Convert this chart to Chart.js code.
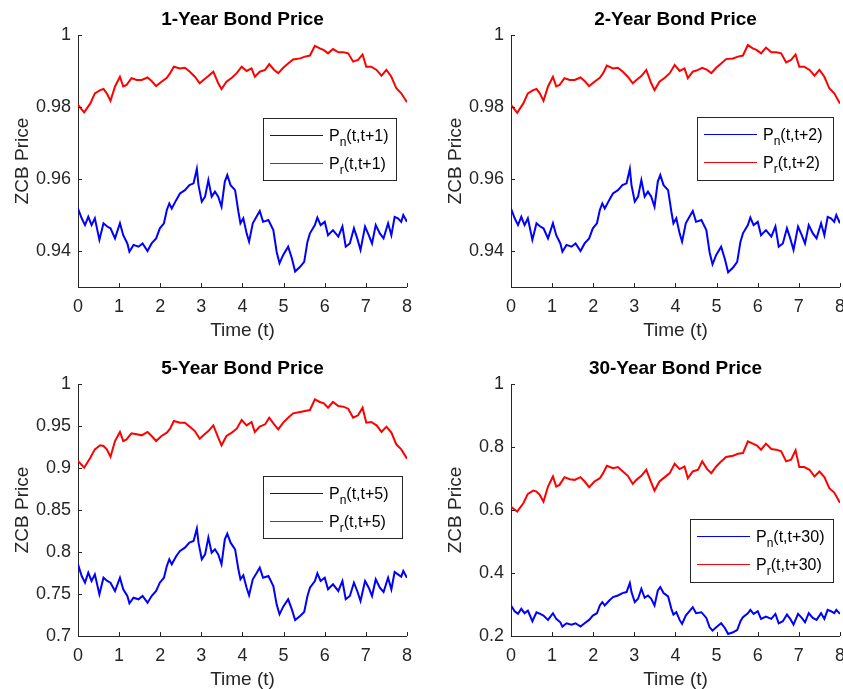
<!DOCTYPE html>
<html>
<head>
<meta charset="utf-8">
<script src="https://cdn.jsdelivr.net/npm/chart.js@4.4.1/dist/chart.umd.min.js"></script>
<style>
  html, body { margin: 0; padding: 0; background: #ffffff; width: 843px; height: 689px; overflow: hidden; }
  canvas { position: absolute; }
</style>
</head>
<body>
<canvas id="c1" width="421" height="345" style="left:0px;top:0px"></canvas>
<canvas id="c2" width="421" height="345" style="left:433px;top:0px"></canvas>
<canvas id="c3" width="421" height="345" style="left:0px;top:349px"></canvas>
<canvas id="c4" width="421" height="345" style="left:433px;top:349px"></canvas>
<script>
// ---------------- DATA ----------------
const titles = ["1-Year Bond Price", "2-Year Bond Price", "5-Year Bond Price", "30-Year Bond Price"];
const maturities = ["1", "2", "5", "30"];
const xLabel = "Time (t)";
const yLabel = "ZCB Price";
const xTicks = [0, 1, 2, 3, 4, 5, 6, 7, 8];

const tReal = [0,0.15,0.3,0.41,0.54,0.62,0.7,0.79,0.9,1.02,1.1,1.18,1.3,1.43,1.55,1.69,1.79,1.9,2.03,2.16,2.24,2.33,2.48,2.6,2.72,2.84,2.96,3.05,3.17,3.29,3.41,3.49,3.61,3.74,3.86,3.98,4.1,4.22,4.3,4.42,4.55,4.65,4.77,4.87,4.99,5.11,5.23,5.4,5.52,5.64,5.76,5.88,5.98,6.08,6.2,6.33,6.45,6.57,6.69,6.81,6.92,7.01,7.13,7.26,7.38,7.5,7.62,7.74,7.86,8];
const tNom = [0,0.09,0.17,0.25,0.33,0.41,0.52,0.62,0.71,0.79,0.9,1.02,1.1,1.2,1.25,1.35,1.47,1.57,1.69,1.79,1.9,1.99,2.09,2.16,2.22,2.28,2.39,2.48,2.6,2.71,2.81,2.89,2.93,3.01,3.09,3.17,3.25,3.33,3.41,3.49,3.57,3.63,3.71,3.82,3.9,3.95,4.02,4.1,4.16,4.25,4.34,4.42,4.5,4.63,4.75,4.83,4.9,4.99,5.11,5.2,5.28,5.4,5.5,5.58,5.64,5.76,5.82,5.9,6.0,6.08,6.2,6.33,6.43,6.51,6.61,6.71,6.79,6.87,6.98,7.07,7.15,7.24,7.34,7.43,7.54,7.62,7.7,7.78,7.86,7.91,8];

// 1-year
const real1 = [0.9806,0.9785,0.9810,0.9838,0.9847,0.9850,0.9838,0.9817,0.9857,0.9884,0.9857,0.9861,0.9880,0.9875,0.9875,0.9882,0.9872,0.9858,0.9870,0.9881,0.9894,0.9912,0.9907,0.9909,0.9898,0.9884,0.9866,0.9875,0.9886,0.9898,0.9866,0.9850,0.9870,0.9881,0.9894,0.9912,0.9900,0.9907,0.9884,0.9898,0.9903,0.9919,0.9903,0.9894,0.9909,0.9921,0.9932,0.9935,0.9940,0.9943,0.9970,0.9963,0.9958,0.9949,0.9961,0.9952,0.9952,0.9949,0.9926,0.9931,0.9946,0.9912,0.9912,0.9903,0.9887,0.9903,0.9884,0.9852,0.9838,0.9813];
const nom1 = [0.9518,0.9491,0.9472,0.9495,0.9472,0.9491,0.9431,0.9477,0.9468,0.9463,0.9435,0.9477,0.9444,0.9421,0.9398,0.9417,0.9412,0.9421,0.9400,0.9421,0.9435,0.9463,0.9477,0.9514,0.9532,0.9518,0.9542,0.9560,0.9569,0.9583,0.9588,0.9628,0.9583,0.9537,0.9551,0.9597,0.9551,0.9565,0.9551,0.9523,0.9593,0.9611,0.9583,0.9569,0.9509,0.9477,0.9491,0.9449,0.9426,0.9477,0.9495,0.9511,0.9481,0.9486,0.9458,0.9398,0.9366,0.9389,0.9412,0.9380,0.9343,0.9356,0.9370,0.9426,0.9449,0.9472,0.9493,0.9472,0.9481,0.9444,0.9458,0.9440,0.9468,0.9412,0.9421,0.9463,0.9435,0.9403,0.9468,0.9444,0.9421,0.9472,0.9449,0.9435,0.9477,0.9444,0.9495,0.9491,0.9481,0.9500,0.9481];
// 2-year
const real2 = [0.9806,0.9784,0.9810,0.9838,0.9847,0.9850,0.9838,0.9817,0.9857,0.9884,0.9857,0.9861,0.9880,0.9875,0.9875,0.9882,0.9872,0.9858,0.9870,0.9881,0.9894,0.9915,0.9907,0.9909,0.9898,0.9884,0.9866,0.9875,0.9886,0.9903,0.9866,0.9847,0.9870,0.9881,0.9894,0.9917,0.9900,0.9907,0.9880,0.9898,0.9903,0.9909,0.9903,0.9894,0.9909,0.9921,0.9933,0.9935,0.9940,0.9943,0.9972,0.9963,0.9958,0.9949,0.9965,0.9952,0.9952,0.9949,0.9924,0.9931,0.9946,0.9912,0.9912,0.9903,0.9887,0.9903,0.9884,0.9852,0.9838,0.9810];
const nom2 = [0.9518,0.9491,0.9472,0.9495,0.9472,0.9491,0.9431,0.9477,0.9468,0.9463,0.9435,0.9477,0.9444,0.9421,0.9398,0.9417,0.9412,0.9421,0.9400,0.9421,0.9435,0.9463,0.9477,0.9514,0.9532,0.9518,0.9542,0.9560,0.9569,0.9583,0.9588,0.9628,0.9583,0.9537,0.9551,0.9597,0.9551,0.9565,0.9551,0.9523,0.9593,0.9611,0.9583,0.9569,0.9509,0.9477,0.9491,0.9449,0.9426,0.9477,0.9495,0.9511,0.9481,0.9486,0.9458,0.9396,0.9363,0.9389,0.9412,0.9378,0.9341,0.9354,0.9370,0.9426,0.9449,0.9472,0.9493,0.9472,0.9481,0.9444,0.9458,0.9440,0.9468,0.9412,0.9421,0.9463,0.9435,0.9403,0.9468,0.9444,0.9421,0.9472,0.9449,0.9435,0.9477,0.9444,0.9495,0.9491,0.9481,0.9500,0.9477];
// 5-year
const real5 = [0.9083,0.9004,0.9123,0.9222,0.9270,0.9262,0.9222,0.9135,0.9321,0.9429,0.9321,0.9341,0.9413,0.9401,0.9389,0.9429,0.9381,0.9321,0.9381,0.9421,0.9468,0.9560,0.9540,0.9540,0.9492,0.9440,0.9349,0.9389,0.9440,0.9508,0.9361,0.9270,0.9381,0.9421,0.9468,0.9571,0.9508,0.9548,0.9429,0.9492,0.9520,0.9599,0.9520,0.9460,0.9540,0.9599,0.9651,0.9667,0.9679,0.9690,0.9817,0.9786,0.9770,0.9718,0.9786,0.9738,0.9730,0.9706,0.9599,0.9627,0.9718,0.9540,0.9548,0.9508,0.9429,0.9492,0.9421,0.9282,0.9222,0.9111];
const nom5 = [0.7853,0.7714,0.7635,0.7754,0.7655,0.7734,0.7496,0.7694,0.7655,0.7635,0.7536,0.7694,0.7556,0.7476,0.7389,0.7456,0.7437,0.7476,0.7397,0.7476,0.7536,0.7635,0.7694,0.7833,0.7913,0.7853,0.7952,0.8012,0.8052,0.8111,0.8131,0.8278,0.8111,0.7913,0.7972,0.8171,0.7992,0.8032,0.7972,0.7853,0.8151,0.8218,0.8111,0.8032,0.7794,0.7675,0.7722,0.7575,0.7484,0.7675,0.7746,0.7813,0.7694,0.7714,0.7595,0.7377,0.7258,0.7349,0.7437,0.7317,0.7190,0.7238,0.7286,0.7476,0.7575,0.7655,0.7746,0.7655,0.7694,0.7556,0.7615,0.7536,0.7655,0.7437,0.7476,0.7635,0.7536,0.7417,0.7655,0.7575,0.7476,0.7675,0.7575,0.7524,0.7694,0.7556,0.7762,0.7734,0.7706,0.7774,0.7694];
// 30-year
const real30 = [0.6106,0.5947,0.6213,0.6510,0.6617,0.6585,0.6479,0.6266,0.6745,0.7064,0.6745,0.6798,0.7043,0.6979,0.6957,0.7043,0.6904,0.6723,0.6904,0.7010,0.7170,0.7404,0.7330,0.7362,0.7223,0.7085,0.6830,0.6957,0.7085,0.7277,0.6872,0.6617,0.6904,0.7043,0.7170,0.7468,0.7298,0.7383,0.7010,0.7223,0.7277,0.7543,0.7298,0.7170,0.7383,0.7543,0.7681,0.7723,0.7787,0.7809,0.8181,0.8106,0.8043,0.7915,0.8106,0.7936,0.7915,0.7862,0.7543,0.7596,0.7894,0.7362,0.7362,0.7277,0.7064,0.7223,0.7043,0.6691,0.6553,0.6234];
const nom30 = [0.2968,0.2787,0.2702,0.2862,0.2723,0.2809,0.2468,0.2755,0.2702,0.2649,0.2511,0.2723,0.2543,0.2436,0.2298,0.2404,0.2362,0.2404,0.2298,0.2404,0.2511,0.2649,0.2723,0.2968,0.3074,0.2968,0.3128,0.3234,0.3287,0.3362,0.3394,0.3681,0.3394,0.3074,0.3181,0.3500,0.3213,0.3287,0.3181,0.2968,0.3447,0.3553,0.3362,0.3255,0.2862,0.2681,0.2755,0.2511,0.2383,0.2649,0.2787,0.2915,0.2723,0.2755,0.2574,0.2277,0.2170,0.2277,0.2404,0.2255,0.2064,0.2117,0.2191,0.2468,0.2596,0.2723,0.2830,0.2702,0.2787,0.2543,0.2617,0.2543,0.2702,0.2404,0.2468,0.2681,0.2543,0.2362,0.2702,0.2574,0.2436,0.2723,0.2574,0.2511,0.2723,0.2543,0.2830,0.2787,0.2723,0.2830,0.2702];

// y tick values / labels
const yTicksShort = [0.94, 0.96, 0.98, 1];
const yTickLabelsShort = ["0.94", "0.96", "0.98", "1"];
const yTicks5 = [0.7, 0.75, 0.8, 0.85, 0.9, 0.95, 1];
const yTickLabels5 = ["0.7", "0.75", "0.8", "0.85", "0.9", "0.95", "1"];
const yTicks30 = [0.2, 0.4, 0.6, 0.8, 1];
const yTickLabels30 = ["0.2", "0.4", "0.6", "0.8", "1"];

// ---------------- STYLE ----------------
const FONT = "'Liberation Sans', Arial, Helvetica, sans-serif";
const AXIS = '#262626';
const BLUE = '#0000ff';
const RED = '#ff0000';

const pairs = (xs, ys) => xs.map((x, i) => ({x: x, y: ys[i]}));

const panelPlugin = {
  id: 'panelPlugin',
  afterDraw(chart) {
    const o = chart.options.plugins.panelPlugin;
    const ctx = chart.ctx;
    const a = chart.chartArea;
    ctx.save();
    // inward ticks
    ctx.fillStyle = AXIS;
    const xs = chart.scales.x, ys = chart.scales.y;
    xs.ticks.forEach(t => {
      const px = Math.round(xs.getPixelForValue(t.value));
      ctx.fillRect(px, Math.round(a.bottom) - 4, 1, 4);
    });
    ys.ticks.forEach(t => {
      const py = Math.round(ys.getPixelForValue(t.value));
      ctx.fillRect(Math.round(a.left), py, 4, 1);
    });
    // title
    ctx.fillStyle = '#000';
    ctx.font = 'bold 19px ' + FONT;
    ctx.textAlign = 'center';
    ctx.textBaseline = 'middle';
    ctx.fillText(o.title, (a.left + a.right) / 2, 20);
    // legend
    const L = o.legend;
    const bx = Math.round(a.left + L.dx), by = Math.round(a.top + L.dy);
    ctx.fillStyle = '#fff';
    ctx.fillRect(bx, by, L.w, L.h);
    ctx.fillStyle = AXIS;
    ctx.fillRect(bx, by, L.w, 1);
    ctx.fillRect(bx, by + L.h, L.w + 1, 1);
    ctx.fillRect(bx, by, 1, L.h);
    ctx.fillRect(bx + L.w, by, 1, L.h);
    const rows = [{sub: 'n', color: BLUE, y: by + 17}, {sub: 'r', color: RED, y: by + 45}];
    rows.forEach(r => {
      ctx.fillStyle = r.color;
      ctx.fillRect(bx + 7, r.y, 53, 1);
      ctx.fillStyle = '#000';
      ctx.textAlign = 'left';
      ctx.textBaseline = 'alphabetic';
      let x = bx + 66;
      const base = r.y + 6;
      ctx.font = '16px ' + FONT;
      ctx.fillText('P', x, base);
      x += ctx.measureText('P').width;
      ctx.font = '12px ' + FONT;
      ctx.fillText(r.sub, x, base + 5);
      x += ctx.measureText(r.sub).width;
      ctx.font = '16px ' + FONT;
      ctx.fillText('(t,t+' + o.mat + ')', x, base);
    });
    ctx.restore();
  }
};

function makeChart(id, idx, nom, real, yMin, yMax, yT, yTL, legend) {
  return new Chart(document.getElementById(id), {
    type: 'line',
    data: {
      datasets: [
        { label: 'Pn(t,t+' + maturities[idx] + ')', data: pairs(tNom, nom), borderColor: BLUE, borderWidth: 2, pointRadius: 0, tension: 0, fill: false },
        { label: 'Pr(t,t+' + maturities[idx] + ')', data: pairs(tReal, real), borderColor: RED, borderWidth: 2, pointRadius: 0, tension: 0, fill: false }
      ]
    },
    options: {
      responsive: false,
      animation: false,
      devicePixelRatio: 1,
      layout: { padding: { left: 0, right: 14, top: 35, bottom: 0 } },
      plugins: {
        legend: { display: false },
        tooltip: { enabled: false },
        panelPlugin: { title: titles[idx], mat: maturities[idx], legend: legend }
      },
      scales: {
        x: {
          type: 'linear', min: 0, max: 8,
          afterBuildTicks: s => { s.ticks = xTicks.map(v => ({value: v})); },
          afterFit: s => { s.height = 58; },
          grid: { display: false, drawTicks: false },
          border: { display: true, color: AXIS, width: 1 },
          ticks: { autoSkip: false, maxRotation: 0, padding: 9, color: AXIS, font: { family: FONT, size: 18 },
                   callback: (v, i) => String(xTicks[i]) },
          title: { display: true, text: xLabel, color: AXIS, font: { family: FONT, size: 19 }, padding: { top: 0, bottom: 2.5 } }
        },
        y: {
          type: 'linear', min: yMin, max: yMax,
          afterBuildTicks: s => { s.ticks = yT.map(v => ({value: v})); },
          afterFit: s => { s.width = 78; },
          grid: { display: false, drawTicks: false },
          border: { display: true, color: AXIS, width: 1 },
          ticks: { autoSkip: false, padding: 7, color: AXIS, font: { family: FONT, size: 18 },
                   callback: (v, i) => yTL[i] },
          title: { display: true, text: yLabel, color: AXIS, font: { family: FONT, size: 19 }, padding: { top: 11, bottom: 0 } }
        }
      }
    },
    plugins: [panelPlugin]
  });
}

makeChart('c1', 0, nom1, real1, 0.93, 1, yTicksShort, yTickLabelsShort, {dx: 185, dy: 83, w: 133, h: 62});
makeChart('c2', 1, nom2, real2, 0.93, 1, yTicksShort, yTickLabelsShort, {dx: 186, dy: 82, w: 136, h: 63});
makeChart('c3', 2, nom5, real5, 0.7, 1, yTicks5, yTickLabels5, {dx: 185, dy: 92, w: 139, h: 62});
makeChart('c4', 3, nom30, real30, 0.2, 1, yTicks30, yTickLabels30, {dx: 179, dy: 135, w: 143, h: 63});
</script>
</body>
</html>
